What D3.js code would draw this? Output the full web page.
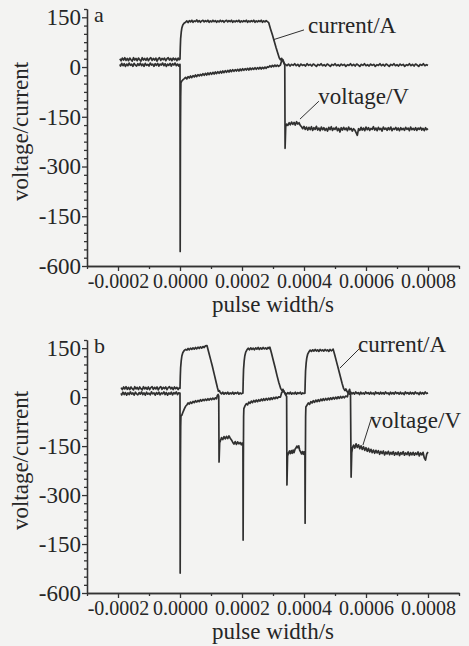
<!DOCTYPE html>
<html>
<head>
<meta charset="utf-8">
<script src="https://cdn.jsdelivr.net/npm/d3@7"></script>
<style>
  body { margin: 0; background: #f3f3f2; }
  svg { display: block; }
  svg text { font-family: 'Liberation Serif', 'DejaVu Serif', serif !important; fill: #262626; }
  .axis path, .axis line { stroke: #333; stroke-width: 1.3; }
</style>
</head>
<body>
<svg width="469" height="646"></svg>
<script>
// time in microseconds, values in A / V
var xMajor = [-200, 0, 200, 400, 600, 800];
var xLabels = ["-0.0002", "0.0000", "0.0002", "0.0004", "0.0006", "0.0008"];
var yMajor = [150, 0, -150, -300, -450, -600];
var yLabels = ["150", "0", "-150", "-300", "-150", "-600"];

var currentA = [[-194,25],[-190,19],[-186,27],[-182,21],[-178,28],[-174,20],[-170,26],[-166,19],[-162,27],[-158,22],[-154,18],[-150,28],[-146,21],[-142,26],[-138,19],[-134,27],[-130,22],[-126,18],[-122,28],[-118,21],[-114,26],[-110,20],[-106,27],[-102,19],[-98,25],[-94,28],[-90,20],[-86,26],[-82,21],[-78,27],[-74,18],[-70,25],[-66,28],[-62,20],[-58,26],[-54,22],[-50,27],[-46,19],[-42,25],[-38,28],[-34,21],[-30,26],[-26,19],[-22,27],[-18,22],[-14,26],[-10,19],[-6,27],[-3,22],
  [0,24],[1,60],[2,85],[4,105],[6,118],[9,127],[13,132],[18,135],
  [22,139],[26,134],[30,140],[34,136],[38,141],[42,135],[46,139],[50,137],[54,142],[58,136],[62,140],[66,135],[70,139],[74,141],[78,136],[82,140],[86,137],[90,141],[94,135],[98,139],[102,136],[106,141],[110,137],[114,140],[118,135],[122,139],[126,136],[130,141],[134,137],[138,140],[142,135],[146,139],[150,141],[154,136],[158,140],[162,137],[166,141],[170,135],[174,139],[178,136],[182,140],[186,137],[190,141],[194,135],[198,139],[202,136],[206,140],[210,137],[214,141],[218,135],[222,139],[226,136],[230,140],[234,137],[238,141],[242,135],[246,139],[250,136],[254,140],[258,137],[262,141],[266,135],[270,139],[274,136],[278,140],[282,137],
  [286,134],[292,115],[298,97],[304,78],[310,58],[316,40],[320,28],[324,22],[328,26],[332,18],[336,10],[340,8],
  [345,4],[350,9],[355,3],[360,8],[365,5],[370,10],[375,4],[380,8],[385,2],[390,9],[395,5],[400,7],[405,3],[410,10],[415,5],[420,8],[425,3],[430,9],[435,6],[440,2],[445,8],[450,5],[455,10],[460,4],[465,7],[470,3],[475,9],[480,6],[485,2],[490,8],[495,5],[500,10],[505,4],[510,7],[515,3],[520,9],[525,5],[530,8],[535,2],[540,7],[545,5],[550,10],[555,4],[560,8],[565,3],[570,9],[575,6],[580,2],[585,8],[590,5],[595,10],[600,4],[605,7],[610,3],[615,9],[620,5],[625,8],[630,2],[635,7],[640,5],[645,10],[650,4],[655,8],[660,3],[665,9],[670,6],[675,2],[680,8],[685,5],[690,10],[695,4],[700,7],[705,3],[710,9],[715,5],[720,8],[725,2],[730,7],[735,5],[740,10],[745,4],[750,8],[755,3],[760,9],[765,6],[770,2],[775,8],[780,5],[785,10],[790,4],[795,7],[800,5]];

var voltageA = [[-194,8],[-192,3],[-188,11],[-184,4],[-180,10],[-176,2],[-172,9],[-168,4],[-164,12],[-160,5],[-156,9],[-152,2],[-148,11],[-144,6],[-140,3],[-136,10],[-132,5],[-128,12],[-124,4],[-120,9],[-116,2],[-112,11],[-108,5],[-104,8],[-100,3],[-96,12],[-92,6],[-88,9],[-84,2],[-80,10],[-76,5],[-72,11],[-68,3],[-64,9],[-60,6],[-56,12],[-52,4],[-48,10],[-44,2],[-40,9],[-36,5],[-32,11],[-28,3],[-24,10],[-20,6],[-16,12],[-12,4],[-8,9],[-4,3],[-1,8],
  [0,8],[0.6,-556],[1.4,-200],[2.2,-90],[3,-48],
  [6,-42],[10,-38],[14,-35],[18,-31],[22,-36],[26,-29],[30,-33],[34,-27],[38,-32],[42,-26],[46,-30],[50,-24],[54,-29],[58,-23],[62,-27],[66,-22],[70,-26],[74,-20],[78,-25],[82,-19],[86,-24],[90,-18],[94,-23],[98,-17],[102,-22],[106,-16],[110,-21],[114,-15],[118,-20],[122,-14],[126,-19],[130,-13],[134,-18],[138,-12],[142,-17],[146,-11],[150,-16],[154,-10],[158,-15],[162,-9],[166,-14],[170,-8],[174,-13],[178,-8],[182,-12],[186,-7],[190,-12],[194,-6],[198,-11],[202,-5],[206,-10],[210,-5],[214,-9],[218,-4],[222,-9],[226,-3],[230,-8],[234,-3],[238,-7],[242,-2],[246,-7],[250,-2],[254,-6],[258,-1],[262,-6],[266,-1],[270,-5],[274,0],[278,-4],[282,1],[286,-1],[290,4],[294,0],[298,5],[302,1],[306,6],[310,2],[314,6],[318,2],[324,6],
  [328,20],[332,22],[336,12],[338,5],
  [339,-245],[341,-180],[344,-172],
  [348,-176],[352,-168],[356,-174],[360,-166],[364,-173],[368,-167],[372,-175],[376,-165],[380,-172],[384,-168],[388,-176],[392,-180],[396,-186],[400,-179],[404,-188],[408,-181],[412,-190],[416,-182],[420,-189],[424,-180],[428,-191],[432,-183],[436,-188],[440,-179],[444,-190],[448,-184],[452,-192],[456,-181],[460,-189],[464,-183],[468,-191],[472,-185],[476,-193],[480,-182],[484,-189],[488,-180],[492,-191],[496,-184],[500,-188],[504,-181],[508,-192],[512,-185],[516,-196],[520,-183],[524,-190],[528,-182],[532,-189],[536,-184],[540,-192],[544,-181],[548,-189],[552,-185],[556,-193],[560,-186],[564,-190],[568,-198],[572,-206],[576,-186],[580,-191],[584,-182],[588,-190],[592,-184],[596,-192],[600,-181],[604,-189],[608,-183],[612,-191],[616,-185],[620,-188],[624,-180],[628,-190],[632,-184],[636,-192],[640,-182],[644,-189],[648,-185],[652,-193],[656,-181],[660,-188],[664,-184],[668,-191],[672,-183],[676,-189],[680,-181],[684,-192],[688,-185],[692,-188],[696,-182],[700,-190],[704,-184],[708,-192],[712,-183],[716,-189],[720,-185],[724,-191],[728,-182],[732,-188],[736,-184],[740,-192],[744,-181],[748,-189],[752,-185],[756,-190],[760,-183],[764,-191],[768,-184],[772,-188],[776,-182],[780,-190],[784,-185],[788,-192],[792,-183],[796,-189],[800,-186]];

var currentB = [[-190,29],[-186,23],[-182,31],[-178,25],[-174,32],[-170,24],[-166,30],[-162,23],[-158,31],[-154,26],[-150,22],[-146,32],[-142,25],[-138,30],[-134,23],[-130,31],[-126,26],[-122,22],[-118,32],[-114,25],[-110,30],[-106,24],[-102,31],[-98,23],[-94,29],[-90,32],[-86,24],[-82,30],[-78,25],[-74,31],[-70,22],[-66,29],[-62,32],[-58,24],[-54,30],[-50,26],[-46,31],[-42,23],[-38,29],[-34,32],[-30,25],[-26,30],[-22,23],[-18,31],[-14,26],[-10,30],[-6,23],[-3,28],
  [0,27],[1,65],[2,90],[4,112],[6,126],[9,136],[13,142],[18,146],
  [22,144],[26,149],[30,145],[34,150],[38,146],[42,151],[46,147],[50,152],[54,148],[58,153],[62,149],[66,154],[70,150],[74,155],[78,152],[82,157],[87,158],
  [92,140],[98,118],[104,96],[110,72],[116,48],[121,28],[124,18],
  [127,20],[130,14],[134,10],[138,15],[142,9],[146,14],[150,10],[154,15],[158,9],[162,13],[166,10],[170,15],[174,9],[178,14],[182,11],[186,15],[190,9],[194,13],[198,10],[201,12],
  [203,12],[204,55],[205,85],[207,110],[209,126],[212,138],[216,145],[220,150],[224,145],[228,151],[232,146],[236,150],[240,145],[244,151],[248,147],[252,152],[256,146],[260,151],[264,147],[268,152],[272,148],[276,151],[280,147],[284,152],[288,149],[290,153],
  [295,135],[301,112],[307,90],[313,66],[319,44],[325,26],[329,20],[332,24],[336,16],[340,12],
  [344,9],[348,14],[352,10],[356,15],[360,9],[364,13],[368,10],[372,15],[376,9],[380,14],[384,11],[388,15],[392,9],[396,13],[400,11],
  [403,12],[404,50],[405,80],[407,105],[409,120],[412,132],[416,139],[420,144],[424,140],[428,145],[432,141],[436,146],[440,141],[444,145],[448,140],[452,146],[456,142],[460,145],[464,141],[468,146],[472,142],[476,145],[480,140],[484,146],[488,142],[492,145],[494,147],
  [499,130],[505,108],[511,86],[517,64],[523,42],[528,26],[532,20],[535,25],[539,17],[543,12],
  [547,9],[551,15],[555,10],[559,14],[563,9],[567,16],[571,11],[575,14],[579,8],[583,15],[587,10],[591,13],[595,9],[599,16],[603,11],[607,14],[611,9],[615,15],[619,10],[623,13],[627,8],[631,16],[635,11],[639,14],[643,9],[647,15],[651,10],[655,14],[659,9],[663,16],[667,11],[671,13],[675,8],[679,15],[683,10],[687,14],[691,9],[695,16],[699,11],[703,14],[707,9],[711,15],[715,10],[719,13],[723,8],[727,16],[731,11],[735,14],[739,9],[743,15],[747,10],[751,14],[755,9],[759,16],[763,11],[767,13],[771,8],[775,15],[779,10],[783,14],[787,9],[791,16],[795,11],[800,13]];

var voltageB = [[-190,12],[-188,7],[-184,15],[-180,8],[-176,14],[-172,6],[-168,13],[-164,8],[-160,16],[-156,9],[-152,13],[-148,6],[-144,15],[-140,10],[-136,7],[-132,14],[-128,9],[-124,16],[-120,8],[-116,13],[-112,6],[-108,15],[-104,9],[-100,12],[-96,7],[-92,16],[-88,10],[-84,13],[-80,6],[-76,14],[-72,9],[-68,15],[-64,7],[-60,13],[-56,10],[-52,16],[-48,8],[-44,14],[-40,6],[-36,13],[-32,9],[-28,15],[-24,7],[-20,14],[-16,10],[-12,16],[-8,8],[-4,13],[-1,12],
  [0,12],[0.6,-539],[1.4,-200],[2.2,-90],[3,-58],
  [6,-55],[10,-45],[14,-36],[18,-28],[22,-24],[26,-18],[30,-21],[34,-15],[38,-19],[42,-13],[46,-17],[50,-11],[54,-15],[58,-10],[62,-14],[66,-8],[70,-12],[74,-7],[78,-11],[82,-6],[86,-10],[90,-5],[94,-9],[98,-4],[102,-8],[106,-3],[110,-7],[114,-2],[118,-5],
  [120,4],[123,8],[125,3],
  [126,-199],[128,-140],[131,-132],
  [134,-124],[138,-130],[142,-121],[146,-128],[150,-120],[154,-127],[158,-119],[162,-126],[166,-131],[170,-138],[174,-144],[178,-136],[182,-145],[186,-137],[190,-143],[194,-139],[198,-146],[200,-141],
  [203,-141],[203.6,-438],[204.4,-200],[205.2,-60],[206,-35],
  [210,-26],[214,-20],[218,-24],[222,-15],[226,-19],[230,-12],[234,-17],[238,-10],[242,-15],[246,-9],[250,-14],[254,-8],[258,-12],[262,-6],[266,-11],[270,-5],[274,-10],[278,-4],[282,-9],[286,-3],[290,-8],[294,-2],[298,-7],[302,-1],[306,-5],[310,0],[314,-4],[318,1],[324,0],
  [328,14],[334,20],[340,8],[344,2],
  [345,-269],[347,-180],[350,-171],
  [353,-165],[356,-173],[359,-164],[362,-172],[365,-162],[368,-170],[371,-160],[374,-156],[377,-150],[380,-155],[383,-149],[386,-162],[389,-168],[392,-174],[395,-167],[398,-175],[400,-168],
  [403,-168],[403.6,-386],[404.4,-200],[405.2,-60],[406,-30],
  [410,-24],[414,-18],[418,-22],[422,-14],[426,-18],[430,-11],[434,-16],[438,-9],[442,-14],[446,-8],[450,-13],[454,-6],[458,-11],[462,-5],[466,-10],[470,-4],[474,-9],[478,-3],[482,-8],[486,-2],[490,-7],[494,-1],[498,-6],[502,0],[506,-5],[510,1],[514,-4],[518,2],[522,-3],[526,2],[530,-2],[534,3],[540,1],
  [543,14],[547,24],[550,10],
  [552,-245],[554,-170],[557,-153],
  [560,-147],[564,-156],[568,-143],[572,-154],[576,-146],[580,-158],[584,-149],[588,-160],[592,-152],[596,-163],[600,-155],[604,-166],[608,-157],[612,-168],[616,-160],[620,-170],[624,-162],[628,-172],[632,-163],[636,-171],[640,-164],[644,-175],[648,-166],[652,-173],[656,-165],[660,-177],[664,-168],[668,-174],[672,-166],[676,-176],[680,-169],[684,-175],[688,-167],[692,-178],[696,-170],[700,-176],[704,-168],[708,-179],[712,-170],[716,-175],[720,-167],[724,-178],[728,-171],[732,-176],[736,-168],[740,-179],[744,-170],[748,-177],[752,-169],[756,-178],[760,-171],[764,-176],[768,-168],[772,-180],[776,-171],[780,-177],[784,-169],[788,-186],[792,-193],[796,-174],[800,-168]];

var panels = [
  { name: "a", current: currentA, voltage: voltageA, top: 9, bottom: 266,
    curLabel: { t: 413, v: 103, from: [400, 112], to: [300, 82] },
    volLabel: { t: 446, v: -112, from: [448, -103], to: [387, -157] } },
  { name: "b", current: currentB, voltage: voltageB, top: 340, bottom: 593,
    curLabel: { t: 574, v: 138, from: [577, 147], to: [516, 89] },
    volLabel: { t: 614, v: -95, from: [619, -60], to: [590, -147] } }
];

var svg = d3.select("svg");
var left = 87, right = 459;
var ink = "#303030";

var x = d3.scaleLinear().domain([-300, 900]).range([left, right]);
var xMinor = d3.range(-300, 901, 100).filter(d => xMajor.indexOf(d) < 0);
var yMinorAll = d3.range(-600, 176, 25).filter(d => yMajor.indexOf(d) < 0);

panels.forEach(function(p) {
  var y = d3.scaleLinear().domain([-600, 175]).range([p.bottom, p.top]);
  var g = svg.append("g");

  // minor ticks
  g.append("g").attr("class", "axis")
    .attr("transform", "translate(" + left + ",0)")
    .call(d3.axisLeft(y).tickValues(yMinorAll).tickSize(3).tickSizeOuter(0).tickFormat(""));
  g.append("g").attr("class", "axis")
    .attr("transform", "translate(0," + p.bottom + ")")
    .call(d3.axisBottom(x).tickValues(xMinor).tickSize(3).tickSizeOuter(0).tickFormat(""));

  var ya = g.append("g").attr("class", "axis")
    .attr("transform", "translate(" + left + ",0)")
    .call(d3.axisLeft(y).tickValues(yMajor).tickSize(5).tickSizeOuter(0).tickPadding(1)
      .tickFormat((d, i) => yLabels[i]));
  ya.selectAll("text").style("font-size", "23px");

  var xa = g.append("g").attr("class", "axis")
    .attr("transform", "translate(0," + p.bottom + ")")
    .call(d3.axisBottom(x).tickValues(xMajor).tickSize(5).tickSizeOuter(0).tickPadding(3)
      .tickFormat((d, i) => xLabels[i]));
  xa.selectAll("text").style("font-size", "20px");

  var line = d3.line().x(d => x(d[0])).y(d => y(d[1]));
  [p.current, p.voltage].forEach(function(s) {
    g.append("path").datum(s)
      .attr("d", line)
      .attr("fill", "none")
      .attr("stroke", ink)
      .attr("stroke-width", 1.7)
      .attr("stroke-linejoin", "round");
  });

  // annotations
  [[p.curLabel, "current/A"], [p.volLabel, "voltage/V"]].forEach(function(a) {
    var l = a[0];
    g.append("line")
      .attr("x1", x(l.from[0])).attr("y1", y(l.from[1]))
      .attr("x2", x(l.to[0])).attr("y2", y(l.to[1]))
      .attr("stroke", ink).attr("stroke-width", 1);
    g.append("text")
      .attr("x", x(l.t)).attr("y", y(l.v))
      .style("font-size", "23px")
      .text(a[1]);
  });

  g.append("text")
    .attr("x", left + 7).attr("y", y(150) + 5)
    .style("font-size", "22px")
    .text(p.name);

  g.append("text")
    .attr("x", (left + right) / 2).attr("y", p.bottom + 46)
    .attr("text-anchor", "middle")
    .style("font-size", "23px")
    .text("pulse width/s");

  g.append("text")
    .attr("transform", "translate(28," + ((p.top + p.bottom) / 2 - 6) + ") rotate(-90)")
    .attr("text-anchor", "middle")
    .style("font-size", "23px")
    .text("voltage/current");
});
</script>
</body>
</html>
